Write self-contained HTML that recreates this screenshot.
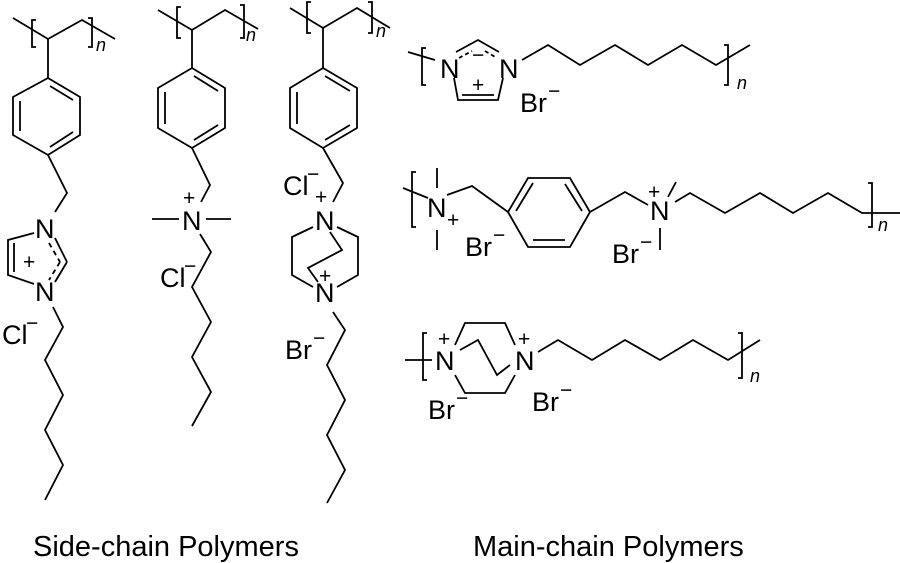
<!DOCTYPE html>
<html><head><meta charset="utf-8"><style>
html,body{margin:0;padding:0;background:#fff;width:900px;height:563px;overflow:hidden}
svg{display:block}
text{font-family:"Liberation Sans",Arial,sans-serif;fill:#000}
.a{font-size:27px}
.s{font-size:21px}
.n{font-size:18px;font-style:italic}
.t{font-size:29px}
</style></head><body>
<svg width="900" height="563" viewBox="0 0 900 563" xmlns="http://www.w3.org/2000/svg">
<g fill="none" stroke="#000" stroke-width="1.8" stroke-linejoin="miter">
<!-- Structure 1 -->
<polyline points="13,18 48,39 82,20 115,39"/>
<polyline points="36,20 32,20 32,47 36,47"/>
<polyline points="88,18 92,18 92,47 88,47"/>
<line x1="48" y1="39" x2="48" y2="78"/>
<polygon points="48,78 80,97 80,135 48,155 13,135 13,97"/>
<line x1="50" y1="86" x2="73" y2="100"/><line x1="20" y1="101" x2="20" y2="131"/><line x1="50" y1="147" x2="73" y2="132"/>
<polyline points="48,155 67,193 55,212"/>
<polyline points="34,233 8,240 8,275 34,284"/>
<line x1="14" y1="243" x2="14" y2="272"/>
<line x1="55" y1="238" x2="67" y2="262"/><line x1="67" y1="262" x2="55" y2="282"/>
<line x1="49" y1="243" x2="60" y2="262" stroke-dasharray="5,4"/>
<line x1="60" y1="262" x2="49" y2="280" stroke-dasharray="5,4"/>
<polyline points="53,307 63,327 45,360 63,395 45,430 63,465 45,500"/>
<!-- Structure 2 -->
<polyline points="158,10 192,30 225,10 258,29"/>
<polyline points="181,7 177,7 177,38 181,38"/>
<polyline points="240,5 244,5 244,38 240,38"/>
<line x1="192" y1="30" x2="192" y2="68"/>
<polygon points="192,68 225,88 225,128 192,148 158,128 158,88"/>
<line x1="194" y1="76" x2="218" y2="91"/><line x1="165" y1="92" x2="165" y2="124"/><line x1="194" y1="140" x2="218" y2="125"/>
<polyline points="192,148 210,185 201,202"/>
<line x1="152" y1="219" x2="179" y2="219"/><line x1="206" y1="219" x2="231" y2="219"/>
<polyline points="200,234 211,252 192,287 211,322 192,357 211,392 192,426"/>
<!-- Structure 3 -->
<polyline points="290,8 323,28 357,8 390,28"/>
<polyline points="311,2 307,2 307,33 311,33"/>
<polyline points="368,2 372,2 372,33 368,33"/>
<line x1="323" y1="28" x2="323" y2="68"/>
<polygon points="323,68 357,88 357,128 323,148 290,128 290,88"/>
<line x1="325" y1="76" x2="350" y2="91"/><line x1="297" y1="92" x2="297" y2="124"/><line x1="325" y1="140" x2="350" y2="125"/>
<polyline points="323,148 343,183 333,202"/>
<polyline points="313,227 292,237 292,275 313,287"/>
<polyline points="337,227 358,237 358,275 337,287"/>
<polyline points="330,232 342,250 308,268 318,282"/>
<polyline points="333,312 345,330 327,365 345,400 327,435 345,470 327,503"/>
<!-- Main 1 -->
<polyline points="408,52 435,60"/>
<polyline points="426,48 422,48 422,85 426,85"/>
<polyline points="724,45 728,45 728,85 724,85"/>
<polyline points="456,52 478,40 499,52"/>
<line x1="459" y1="58" x2="472" y2="51" stroke-dasharray="4,3"/>
<line x1="485" y1="51" x2="497" y2="58" stroke-dasharray="4,3"/>
<polyline points="454,78 458,100 498,100 503,78"/>
<line x1="462" y1="95" x2="494" y2="95"/>
<polyline points="522,60 548,45 580,65 615,45 648,65 682,45 716,65 750,45"/>
<!-- Main 2 -->
<line x1="403" y1="188" x2="428" y2="198"/>
<polyline points="416,172 412,172 412,227 416,227"/>
<line x1="437" y1="168" x2="437" y2="188"/><line x1="437" y1="230" x2="437" y2="250"/>
<polyline points="447,195 472,186 508,212"/>
<polygon points="508,212 528,178 570,178 590,212 570,247 528,247"/>
<line x1="516" y1="211" x2="533" y2="183"/><line x1="565" y1="184" x2="582" y2="211"/><line x1="533" y1="240" x2="565" y2="240"/>
<polyline points="590,212 625,192 648,205"/>
<line x1="668" y1="197" x2="676" y2="182"/>
<line x1="660" y1="228" x2="660" y2="250"/>
<polyline points="675,202 690,193 725,213 760,193 793,213 828,193 862,213 900,213"/>
<polyline points="868,183 872,183 872,227 868,227"/>
<!-- Main 3 -->
<line x1="405" y1="360" x2="432" y2="360"/>
<polyline points="427,333 423,333 423,380 427,380"/>
<polyline points="455,345 465,323 505,323 515,345"/>
<polyline points="455,375 465,393 505,393 515,375"/>
<polyline points="460,350 478,340 497,375 510,365"/>
<polyline points="538,352 558,340 592,360 625,340 660,360 693,340 728,360 760,340"/>
<polyline points="738,333 742,333 742,378 738,378"/>
</g>
<!-- labels -->
<text class="a" x="35" y="238">N</text>
<text class="a" x="35" y="301">N</text>
<text class="s" x="23" y="269">+</text>
<text class="a" x="2" y="344">Cl</text><text class="s" x="26" y="330">−</text>
<text class="n" x="96" y="51">n</text>

<text class="a" x="182" y="230">N</text>
<text class="s" x="183" y="205">+</text>
<text class="a" x="160" y="287">Cl</text><text class="s" x="184" y="273">−</text>
<text class="n" x="246" y="41">n</text>

<text class="a" x="315" y="230">N</text>
<text class="a" x="315" y="302">N</text>
<text class="s" x="315" y="204">+</text>
<text class="s" x="319" y="283">+</text>
<text class="a" x="283" y="195">Cl</text><text class="s" x="307" y="181">−</text>
<text class="a" x="285" y="359">Br</text><text class="s" x="313" y="345">−</text>
<text class="n" x="376" y="37">n</text>

<text class="a" x="440" y="78">N</text>
<text class="a" x="499" y="78">N</text>
<text class="s" x="472" y="62">−</text>
<text class="s" x="472" y="92">+</text>
<text class="a" x="520" y="112">Br</text><text class="s" x="548" y="98">−</text>
<text class="n" x="737" y="89">n</text>

<text class="a" x="427" y="217">N</text>
<text class="s" x="447" y="227">+</text>
<text class="a" x="465" y="256">Br</text><text class="s" x="493" y="242">−</text>
<text class="a" x="650" y="220">N</text>
<text class="s" x="648" y="199">+</text>
<text class="a" x="612" y="263">Br</text><text class="s" x="640" y="249">−</text>
<text class="n" x="878" y="231">n</text>

<text class="a" x="435" y="370">N</text>
<text class="s" x="438" y="346">+</text>
<text class="a" x="515" y="370">N</text>
<text class="s" x="518" y="346">+</text>
<text class="a" x="428" y="419">Br</text><text class="s" x="456" y="405">−</text>
<text class="a" x="532" y="411">Br</text><text class="s" x="560" y="397">−</text>
<text class="n" x="750" y="382">n</text>

<text class="t" x="33" y="556">Side-chain Polymers</text>
<text class="t" x="473" y="556">Main-chain Polymers</text>
</svg>
</body></html>
